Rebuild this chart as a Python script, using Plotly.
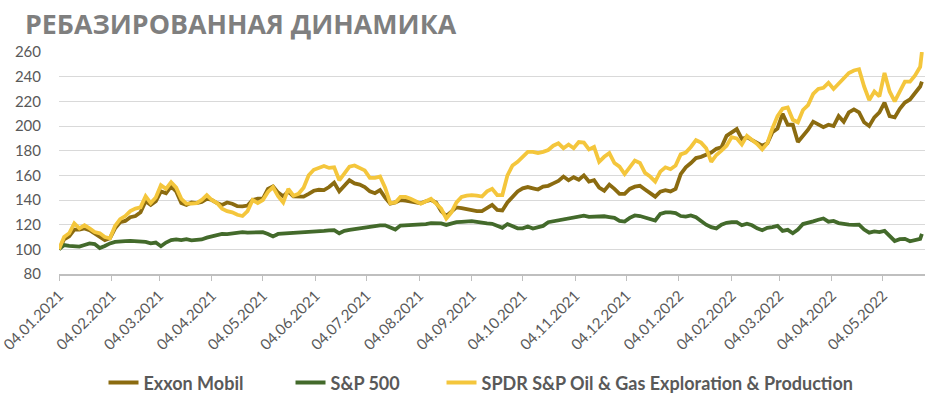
import plotly.graph_objects as go

dates = [
"2021-01-04","2021-01-07","2021-01-10","2021-01-13","2021-01-16","2021-01-19","2021-01-22","2021-01-25","2021-01-28","2021-01-31",
"2021-02-03","2021-02-06","2021-02-09","2021-02-12","2021-02-15","2021-02-18","2021-02-21","2021-02-24","2021-02-27","2021-03-02",
"2021-03-05","2021-03-08","2021-03-11","2021-03-14","2021-03-17","2021-03-20","2021-03-23","2021-03-26","2021-03-29","2021-04-01",
"2021-04-04","2021-04-07","2021-04-10","2021-04-13","2021-04-16","2021-04-19","2021-04-22","2021-04-25","2021-04-28","2021-05-01",
"2021-05-04","2021-05-07","2021-05-10","2021-05-13","2021-05-16","2021-05-19","2021-05-22","2021-05-25","2021-05-28","2021-05-31",
"2021-06-03","2021-06-06","2021-06-09","2021-06-12","2021-06-15","2021-06-18","2021-06-21","2021-06-24","2021-06-27","2021-06-30",
"2021-07-03","2021-07-06","2021-07-09","2021-07-12","2021-07-15","2021-07-18","2021-07-21","2021-07-24","2021-07-27","2021-07-30",
"2021-08-02","2021-08-05","2021-08-08","2021-08-11","2021-08-14","2021-08-17","2021-08-20","2021-08-23","2021-08-26","2021-08-29",
"2021-09-01","2021-09-04","2021-09-07","2021-09-10","2021-09-13","2021-09-16","2021-09-19","2021-09-22","2021-09-25","2021-09-28",
"2021-10-01","2021-10-04","2021-10-07","2021-10-10","2021-10-13","2021-10-16","2021-10-19","2021-10-22","2021-10-25","2021-10-28",
"2021-10-31","2021-11-03","2021-11-06","2021-11-09","2021-11-12","2021-11-15","2021-11-18","2021-11-21","2021-11-24","2021-11-27",
"2021-11-30","2021-12-03","2021-12-06","2021-12-09","2021-12-12","2021-12-15","2021-12-18","2021-12-21","2021-12-24","2021-12-27",
"2021-12-30","2022-01-02","2022-01-05","2022-01-08","2022-01-11","2022-01-14","2022-01-17","2022-01-20","2022-01-23","2022-01-26",
"2022-01-29","2022-02-01","2022-02-04","2022-02-07","2022-02-10","2022-02-13","2022-02-16","2022-02-19","2022-02-22","2022-02-25",
"2022-02-28","2022-03-03","2022-03-06","2022-03-09","2022-03-12","2022-03-15","2022-03-18","2022-03-21","2022-03-24","2022-03-27",
"2022-03-30","2022-04-02","2022-04-05","2022-04-08","2022-04-11","2022-04-14","2022-04-17","2022-04-20","2022-04-23","2022-04-26",
"2022-04-29","2022-05-02","2022-05-05","2022-05-08","2022-05-11","2022-05-14","2022-05-17","2022-05-20","2022-05-23","2022-05-26",
"2022-05-27",
]

exxon = [
100,108,110.5,116,116,117,115.5,112.7,110,107.5,
109,117,122,123,126,127,130,139,136,139,
147,145.5,151,147,137.5,136,138,137.5,138.5,141,
140,137.5,136,138,137,135,134.8,135.5,140,141,
141,149,151,146,143,147,143,142.7,142.7,145,
147.5,148.3,148,150.5,154,147,151,156,153.5,152.5,
150.5,147,145.5,148,142,137,138,140,139.5,138.7,
138,137.3,139,140,138,131,127,131,134,133.4,
132.5,132,131,131,133.4,136,132,131.5,138,143,
147,149.5,150.5,149.5,148.5,150.8,151.5,153.5,155.5,159,
156,158.5,156.5,160,155,156,150,147.5,152.5,149,
145,145,149,150.8,151.5,148.5,145.4,142.7,146.8,148,
147,149,161,166.5,170,174,175,176.4,178.5,181.5,
182.8,192,195,197.5,189.5,191,188.6,186.5,184,186,
195,198,210,201,201,187,192,197,203.5,201,
199,201,200,208,203.5,211,213.5,211,203,200,
207,211,219,208,207,214,219,221.5,226.5,232,
236,
]

sp500 = [
100,103.5,102.8,102.5,102.2,103.5,104.8,104.3,101,102.7,
104.8,106,106.7,106.7,106.8,106.7,106.5,106,104.8,105.5,
102.5,105.5,107.5,108,107.5,108.2,107.2,107.5,108,109.5,
110.7,112,112.5,112.4,113,113.3,114,113.6,113.5,113.8,
113.9,112.5,110.5,112.5,112.7,113.2,113.4,113.8,114,114,
114.5,114.8,115,115.4,115.6,113,115,115.8,116.5,117,
117.8,118.5,119,119.5,119.5,117.5,116,119.3,119.5,119.6,
120,120.3,120.5,121.2,121.3,121,119.8,121,122,122.3,
122.7,122.9,122.3,121.5,121,120.7,119,117.5,120.5,118.5,
117,117,118.5,116.8,118,119,122,122.8,123.3,124,
124.6,125.5,126.5,127.3,126.3,126.5,127.3,126.8,126.2,125.5,
123,122.5,125.5,127.5,127,126,125,123.4,128.8,130,
130,129.4,127,126.5,127.5,126,123,120,118,117,
120,121.5,122,122,119.5,120.8,119.5,117,115.5,117.5,
118,119,115,115.8,113,116,120.5,122,122.7,124,
125,122.4,123,121.3,120.5,120,119.8,120,116,113.5,
114.5,114,115,110.4,106.8,108.3,108.5,106.5,107.5,108.5,
112.5,
]

spdr = [
100,110,113,121,117,119.5,117,114,113,110,
109,119,124.5,127,131,133,134,143,137.5,142,
152,149,154.5,150,141,137,137,137.5,140,144,
140,137.5,133,131,130,128,127,131,140,137.5,
140,146.5,150.5,143,138,149,143.5,145,150,160,
164.5,166,167.5,166,166.5,156,161,167,168,166,
164,158,158,159,150,137.5,138,142.5,142.5,141,
139,137,139,141,137,133,125,130,138,142.5,
143.5,144,143.5,142.8,147,149,144,144,160,168,
171,174.5,179,179,178,179,180.5,184,186,182,
185,182,187,186.5,181,183,171,175,178,170,
167,161,167,172,170,162,159,155,163,166.5,
165,168,177,178.5,183,188.5,186.5,182,171,176.5,
180,184,191,190,185,192,188.6,185.5,181,186,
198,208,214,215,205,203,213,217,226,230,
231,235,230,234,239,243,245,246,232,221,
228,224,243,228,220,228,236,236,241,248,
260,
]

tick_dates = ["2021-01-04","2021-02-04","2021-03-04","2021-04-04","2021-05-04","2021-06-04",
              "2021-07-04","2021-08-04","2021-09-04","2021-10-04","2021-11-04","2021-12-04",
              "2022-01-04","2022-02-04","2022-03-04","2022-04-04","2022-05-04"]
tick_labels = ["04.01.2021","04.02.2021","04.03.2021","04.04.2021","04.05.2021","04.06.2021",
               "04.07.2021","04.08.2021","04.09.2021","04.10.2021","04.11.2021","04.12.2021",
               "04.01.2022","04.02.2022","04.03.2022","04.04.2022","04.05.2022"]
y_ticks = [80, 100, 120, 140, 160, 180, 200, 220, 240, 260]

title_text = "РЕБАЗИРОВАННАЯ ДИНАМИКА"
series_names = ["Exxon Mobil", "S&P 500", "SPDR S&P Oil & Gas Exploration & Production"]
colors = ["#8B6B10", "#436A2B", "#F4C63C"]
legend_widths = [142, 106, None]

fig = go.Figure()
for name, vals, col, lw in zip(series_names, [exxon, sp500, spdr], colors, legend_widths):
    tr = go.Scatter(x=dates, y=vals, mode="lines", name=name,
                    line=dict(color=col, width=3.8))
    if lw:
        tr.legendwidth = lw
    fig.add_trace(tr)

fig.update_layout(
    width=926, height=398,
    margin=dict(l=59, r=1, t=52, b=124, autoexpand=False),
    paper_bgcolor="white", plot_bgcolor="white",
    font=dict(family="Lato, Open Sans, sans-serif", color="#595959", size=15),
    title=dict(text=title_text, xref="container", yref="container",
               x=25/926, xanchor="left", y=1-25/398, yanchor="middle",
               font=dict(family="Open Sans, sans-serif", size=26.8, color="#7F7F7F", weight="bold")),
    showlegend=True,
    legend=dict(orientation="h", x=0.0514, xanchor="left", y=-0.49, yanchor="middle",
                font=dict(size=18, color="#595959", family="Lato, Open Sans, sans-serif", weight="bold"),
                bgcolor="rgba(0,0,0,0)"),
)
fig.update_xaxes(type="date", range=["2021-01-04", "2022-05-28 20:00"],
                 tickvals=tick_dates, ticktext=tick_labels, tickangle=-45,
                 showgrid=False, showline=True, linecolor="#BFBFBF", linewidth=2,
                 ticks="outside", ticklen=5, tickcolor="#BFBFBF", tickwidth=1,
                 ticklabeloverflow="allow", automargin=False,
                 tickfont=dict(size=15, color="#595959"), zeroline=False)
fig.update_yaxes(range=[80, 260], tickvals=y_ticks, showgrid=True, gridcolor="#D9D9D9",
                 gridwidth=1, zeroline=False, showline=False, ticks="", automargin=False,
                 ticklabelstandoff=17, tickfont=dict(size=15, color="#595959"))

fig.write_html("out.html", config={"displayModeBar": False},
               post_script="document.body.style.margin='0px';")
